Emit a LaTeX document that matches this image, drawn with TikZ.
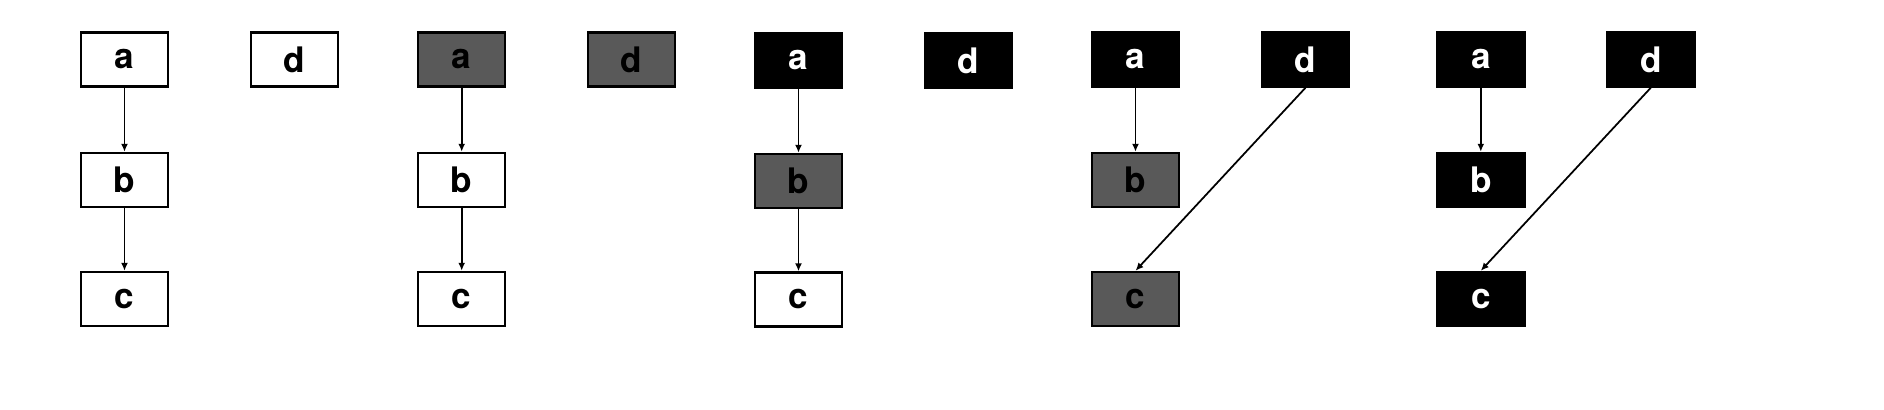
\documentclass[tikz,border=0pt]{standalone}
\usepackage{fontspec}
\setmainfont{TeX Gyre Heros}
\usepackage{xcolor}
\usepackage{tikz}
\usetikzlibrary{arrows.meta, positioning}

\begin{document}
\begin{tikzpicture}[
        wnode/.style = {rectangle, draw=black, line width=0.7pt, minimum width=8.7mm, minimum height=5.4mm, font=\normalsize\bfseries, fill=white, text=black, inner sep=0pt},
        gnode/.style = {wnode, fill=black!65},
        bnode/.style = {wnode, fill=black, text=white},
        edge/.style = {-{Latex[length=0.8mm,width=0.7mm]}, line width=0.5pt}
    ]
    \useasboundingbox (0,0) rectangle (18.84,-4.10);

    \begin{scope}[shift={(1.245,0)}]
        \node [wnode] (a1) at (0,-0.595) {a};
        \node [wnode] (b1) at (0,-1.80) {b};
        \node [wnode] (c1) at (0,-2.99) {c};
        \node [wnode] (d1) at (1.70,-0.595) {d};
        \draw [edge] (a1) -- (b1);
        \draw [edge] (b1) -- (c1);
    \end{scope}

    \begin{scope}[shift={(4.617,0)}]
        \node [gnode] (a2) at (0,-0.595) {a};
        \node [wnode] (b2) at (0,-1.80) {b};
        \node [wnode] (c2) at (0,-2.99) {c};
        \node [gnode] (d2) at (1.70,-0.595) {d};
        \draw [edge] (a2) -- (b2);
        \draw [edge] (b2) -- (c2);
    \end{scope}

    \begin{scope}[shift={(7.985,0)}]
        \node [bnode] (a3) at (0,-0.605) {a};
        \node [gnode] (b3) at (0,-1.81) {b};
        \node [wnode] (c3) at (0,-2.995) {c};
        \node [bnode] (d3) at (1.70,-0.605) {d};
        \draw [edge] (a3) -- (b3);
        \draw [edge] (b3) -- (c3);
    \end{scope}

    \begin{scope}[shift={(11.355,0)}]
        \node [bnode] (a4) at (0,-0.595) {a};
        \node [gnode] (b4) at (0,-1.80) {b};
        \node [gnode] (c4) at (0,-2.99) {c};
        \node [bnode] (d4) at (1.70,-0.595) {d};
        \draw [edge] (a4) -- (b4);
        \draw [edge] (d4.south) -- (c4.north);
    \end{scope}

    \begin{scope}[shift={(14.808,0)}]
        \node [bnode] (a5) at (0,-0.595) {a};
        \node [bnode] (b5) at (0,-1.80) {b};
        \node [bnode] (c5) at (0,-2.99) {c};
        \node [bnode] (d5) at (1.70,-0.595) {d};
        \draw [edge] (a5) -- (b5);
        \draw [edge] (d5.south) -- (c5.north);
    \end{scope}

\end{tikzpicture}
\end{document}
